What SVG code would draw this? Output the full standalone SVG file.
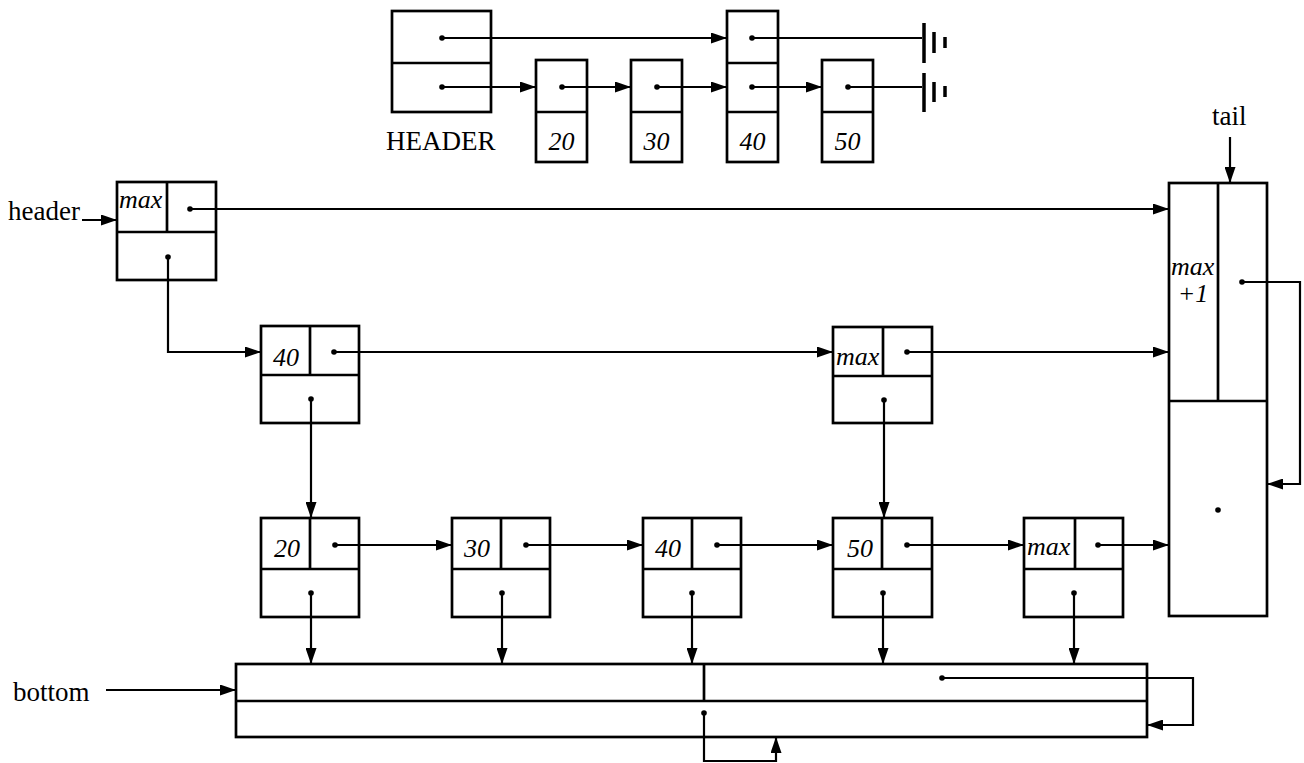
<svg xmlns="http://www.w3.org/2000/svg" width="1304" height="763" viewBox="0 0 1304 763">
<style>
.box{fill:none;stroke:#000;stroke-width:2.7}
.ln{fill:none;stroke:#000;stroke-width:2.7}
.c{fill:none;stroke:#000;stroke-width:2.2}
.ca{fill:none;stroke:#000;stroke-width:2.2;marker-end:url(#ah)}
.dot{fill:#000}
.rm{font-family:"Liberation Serif",serif;font-size:27px;fill:#000}
.it{font-family:"Liberation Serif",serif;font-style:italic;font-size:26px;fill:#000}
.gb{stroke:#000;stroke-width:3.5}
</style>
<defs>
<marker id="ah" viewBox="0 0 16 11" refX="16" refY="5.5" markerWidth="16" markerHeight="11" markerUnits="userSpaceOnUse" orient="auto">
<path d="M0,0 L16,5.5 L0,11 z" fill="#000"/>
</marker>
</defs>
<rect width="1304" height="763" fill="#fff"/>

<!-- top small diagram -->
<g id="top-header">
<rect class="box" x="392" y="11" width="99" height="101"/>
<line class="ln" x1="392" y1="63" x2="491" y2="63"/>
<circle class="dot" cx="442" cy="38" r="2.8"/>
<circle class="dot" cx="442" cy="87" r="2.8"/>
<text class="rm" x="386" y="150" font-size="28">HEADER</text>
</g>
<g id="top-n20">
<rect class="box" x="536" y="60" width="51" height="102"/>
<line class="ln" x1="536" y1="112" x2="587" y2="112"/>
<circle class="dot" cx="562" cy="87" r="2.8"/>
<text class="it" x="561.5" y="150" text-anchor="middle">20</text>
</g>
<g id="top-n30">
<rect class="box" x="631" y="60" width="51" height="102"/>
<line class="ln" x1="631" y1="112" x2="682" y2="112"/>
<circle class="dot" cx="657" cy="87" r="2.8"/>
<text class="it" x="656.5" y="150" text-anchor="middle">30</text>
</g>
<g id="top-n40">
<rect class="box" x="727" y="11" width="51" height="151"/>
<line class="ln" x1="727" y1="63" x2="778" y2="63"/>
<line class="ln" x1="727" y1="112" x2="778" y2="112"/>
<circle class="dot" cx="752" cy="38" r="2.8"/>
<circle class="dot" cx="752" cy="87" r="2.8"/>
<text class="it" x="752.5" y="150" text-anchor="middle">40</text>
</g>
<g id="top-n50">
<rect class="box" x="822" y="60" width="51" height="102"/>
<line class="ln" x1="822" y1="112" x2="873" y2="112"/>
<circle class="dot" cx="848" cy="87" r="2.8"/>
<text class="it" x="847.5" y="150" text-anchor="middle">50</text>
</g>
<g id="ground1">
<line class="gb" x1="924" y1="23" x2="924" y2="63"/>
<line class="gb" x1="934" y1="32" x2="934" y2="53"/>
<line class="gb" x1="945" y1="37" x2="945" y2="48"/>
</g>
<g id="ground2">
<line class="gb" x1="924" y1="73" x2="924" y2="112"/>
<line class="gb" x1="934" y1="82" x2="934" y2="102"/>
<line class="gb" x1="945" y1="86" x2="945" y2="97"/>
</g>

<!-- main diagram nodes -->
<g id="header-node">
<rect class="box" x="117" y="182" width="99" height="98"/>
<line class="ln" x1="117" y1="232" x2="216" y2="232"/>
<line class="ln" x1="167" y1="182" x2="167" y2="232"/>
<circle class="dot" cx="190" cy="209" r="2.8"/>
<circle class="dot" cx="168" cy="257" r="2.8"/>
<text class="it" x="119" y="208">max</text>
</g>
<g id="r2-40">
<rect class="box" x="261" y="326" width="98" height="97"/>
<line class="ln" x1="261" y1="375" x2="359" y2="375"/>
<line class="ln" x1="310" y1="326" x2="310" y2="375"/>
<circle class="dot" cx="334" cy="352" r="2.8"/>
<circle class="dot" cx="311" cy="399" r="2.8"/>
<text class="it" x="286" y="366" text-anchor="middle">40</text>
</g>
<g id="r2-max">
<rect class="box" x="833" y="327" width="99" height="96"/>
<line class="ln" x1="833" y1="376" x2="932" y2="376"/>
<line class="ln" x1="883" y1="327" x2="883" y2="376"/>
<circle class="dot" cx="907" cy="352" r="2.8"/>
<circle class="dot" cx="884" cy="400" r="2.8"/>
<text class="it" x="836" y="365">max</text>
</g>
<g id="r3-20">
<rect class="box" x="261" y="518" width="98" height="99"/>
<line class="ln" x1="261" y1="569" x2="359" y2="569"/>
<line class="ln" x1="310" y1="518" x2="310" y2="569"/>
<circle class="dot" cx="335" cy="545" r="2.8"/>
<circle class="dot" cx="311" cy="593" r="2.8"/>
<text class="it" x="287" y="557" text-anchor="middle">20</text>
</g>
<g id="r3-30">
<rect class="box" x="452" y="518" width="98" height="99"/>
<line class="ln" x1="452" y1="569" x2="550" y2="569"/>
<line class="ln" x1="501" y1="518" x2="501" y2="569"/>
<circle class="dot" cx="526" cy="545" r="2.8"/>
<circle class="dot" cx="502" cy="593" r="2.8"/>
<text class="it" x="477" y="557" text-anchor="middle">30</text>
</g>
<g id="r3-40">
<rect class="box" x="643" y="518" width="98" height="99"/>
<line class="ln" x1="643" y1="569" x2="741" y2="569"/>
<line class="ln" x1="692" y1="518" x2="692" y2="569"/>
<circle class="dot" cx="717" cy="545" r="2.8"/>
<circle class="dot" cx="692" cy="593" r="2.8"/>
<text class="it" x="668" y="557" text-anchor="middle">40</text>
</g>
<g id="r3-50">
<rect class="box" x="833" y="518" width="99" height="99"/>
<line class="ln" x1="833" y1="569" x2="932" y2="569"/>
<line class="ln" x1="882" y1="518" x2="882" y2="569"/>
<circle class="dot" cx="907" cy="545" r="2.8"/>
<circle class="dot" cx="883" cy="593" r="2.8"/>
<text class="it" x="860" y="557" text-anchor="middle">50</text>
</g>
<g id="r3-max">
<rect class="box" x="1024" y="518" width="99" height="99"/>
<line class="ln" x1="1024" y1="569" x2="1123" y2="569"/>
<line class="ln" x1="1075" y1="518" x2="1075" y2="569"/>
<circle class="dot" cx="1098" cy="545" r="2.8"/>
<circle class="dot" cx="1074" cy="593" r="2.8"/>
<text class="it" x="1027" y="555">max</text>
</g>
<g id="tail-node">
<rect class="box" x="1169" y="183" width="98" height="433"/>
<line class="ln" x1="1169" y1="401" x2="1267" y2="401"/>
<line class="ln" x1="1218" y1="183" x2="1218" y2="401"/>
<circle class="dot" cx="1242" cy="282" r="2.8"/>
<circle class="dot" cx="1218" cy="510" r="2.8"/>
<text class="it" x="1171" y="275">max</text>
<text class="it" x="1193" y="302" text-anchor="middle">+1</text>
</g>
<g id="bottom-node">
<rect class="box" x="236" y="664" width="911" height="73"/>
<line class="ln" x1="236" y1="701" x2="1147" y2="701"/>
<line class="ln" x1="704" y1="664" x2="704" y2="701"/>
<circle class="dot" cx="942" cy="678" r="2.8"/>
<circle class="dot" cx="704" cy="713" r="2.8"/>
</g>
<g id="labels">
<text class="rm" x="8" y="220">header</text>
<text class="rm" x="1212" y="125">tail</text>
<text class="rm" x="13" y="701">bottom</text>
</g>

<g id="connectors">
<!-- top -->
<line class="ca" x1="442" y1="38" x2="727" y2="38"/>
<line class="c" x1="752" y1="38" x2="922" y2="38"/>
<line class="ca" x1="442" y1="87" x2="536" y2="87"/>
<line class="ca" x1="562" y1="87" x2="631" y2="87"/>
<line class="ca" x1="657" y1="87" x2="727" y2="87"/>
<line class="ca" x1="752" y1="87" x2="822" y2="87"/>
<line class="c" x1="848" y1="87" x2="922" y2="87"/>
<!-- main -->
<line class="ca" x1="82" y1="220" x2="117" y2="220" stroke-width="1.5"/>
<line class="ca" x1="190" y1="209" x2="1169" y2="209"/>
<polyline class="ca" points="168,257 168,352 261,352"/>
<line class="ca" x1="334" y1="352" x2="833" y2="352"/>
<line class="ca" x1="907" y1="352" x2="1169" y2="352"/>
<line class="ca" x1="311" y1="399" x2="311" y2="518"/>
<line class="ca" x1="884" y1="400" x2="884" y2="518"/>
<line class="ca" x1="335" y1="545" x2="452" y2="545"/>
<line class="ca" x1="526" y1="545" x2="643" y2="545"/>
<line class="ca" x1="717" y1="545" x2="833" y2="545"/>
<line class="ca" x1="907" y1="545" x2="1024" y2="545"/>
<line class="ca" x1="1098" y1="545" x2="1169" y2="545"/>
<line class="ca" x1="311" y1="593" x2="311" y2="664"/>
<line class="ca" x1="502" y1="593" x2="502" y2="664"/>
<line class="ca" x1="692" y1="593" x2="692" y2="664"/>
<line class="ca" x1="883" y1="593" x2="883" y2="664"/>
<line class="ca" x1="1074" y1="593" x2="1074" y2="664"/>
<line class="ca" x1="1230" y1="137" x2="1230" y2="183"/>
<polyline class="ca" points="1242,282 1300,282 1300,484 1267,484"/>
<line class="ca" x1="106" y1="690" x2="236" y2="690"/>
<polyline class="ca" points="942,678 1193,678 1193,725 1147,725"/>
<polyline class="ca" points="704,713 704,761 776,761 776,737"/>
</g>
</svg>
